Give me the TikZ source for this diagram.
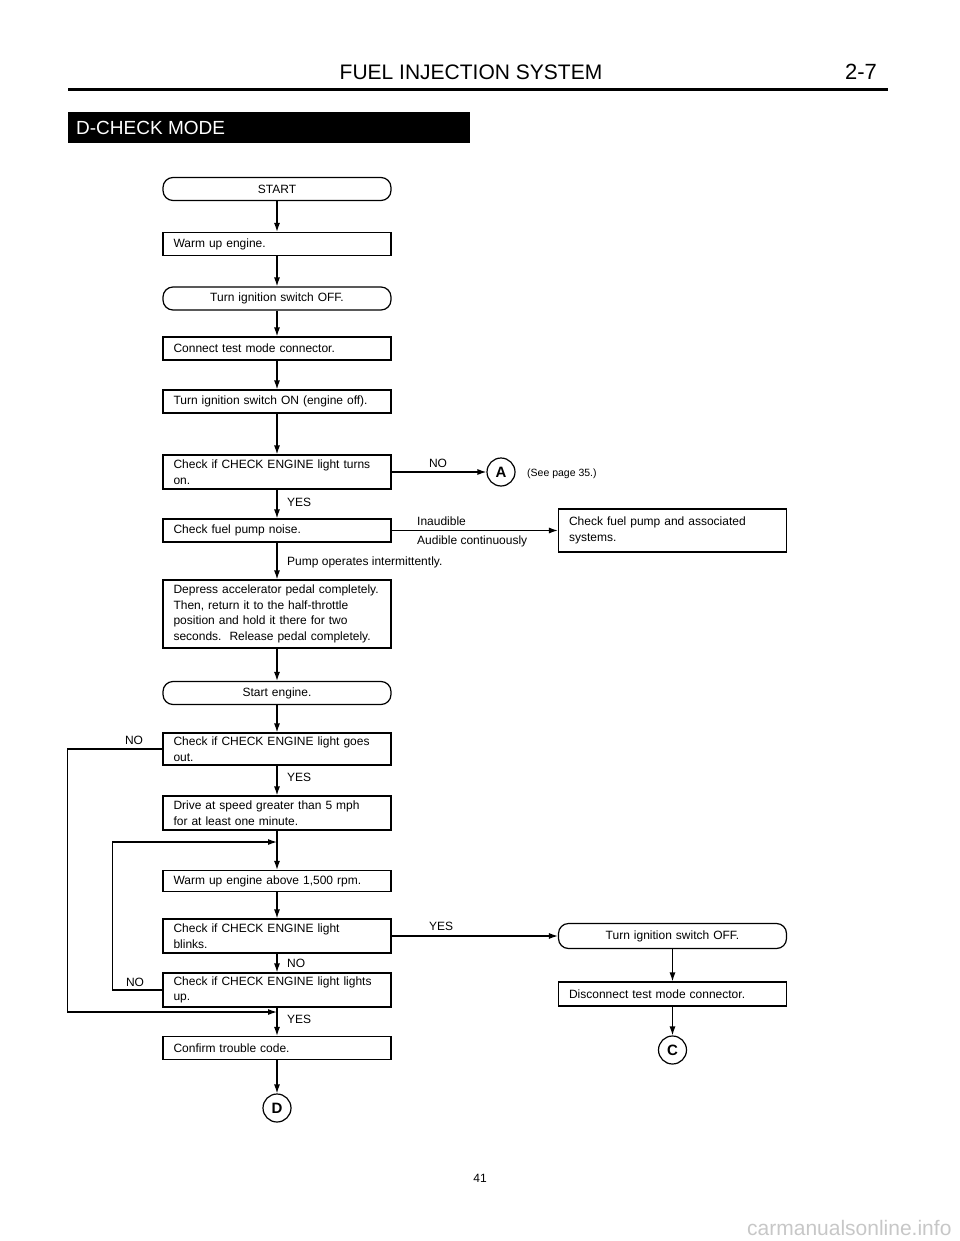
\documentclass[tikz,border=0pt]{standalone}
\usepackage{fontspec}
\setmainfont{Liberation Sans}
\usetikzlibrary{arrows.meta}

\begin{document}
\begin{tikzpicture}[x=1pt,y=-1pt,
  box/.style={draw, line width=1.2pt, text width=207pt, inner xsep=10.5pt, inner ysep=2pt, minimum height=23pt, align=left, font=\fontsize{12}{15.5}\selectfont},
  pill/.style={box, rounded corners=10pt, align=center},
  conn/.style={draw, circle, line width=1.2pt, minimum size=28pt, inner sep=0pt, font=\fontsize{15}{15}\selectfont\bfseries},
  tag/.style={inner sep=0pt, font=\fontsize{12}{14}\selectfont},
  arr/.style={line width=1.2pt, -{Latex[length=9pt,width=6pt]}}]
\useasboundingbox (0,0) rectangle (960,1241);
% page head
\node[font=\fontsize{21}{25}\selectfont] (title) at (471,72) {FUEL INJECTION SYSTEM};
\node[font=\fontsize{22}{25}\selectfont] (page) at (861,72) {2-7};
\path[draw,line width=3pt] (68,90) -- (888,90);
\path[fill=black] (68,112) rectangle (470,143);
\node[anchor=west, text=white, inner sep=0pt, font=\fontsize{19}{22}\selectfont] (mode) at (76,128) {D-CHECK MODE};
% main column
\node[pill] (1) at (277,189) {START};
\node[box] (2) at (277,244) {Warm up engine.};
\node[pill] (3) at (277,298.5) {Turn ignition switch OFF.};
\node[box] (4) at (277,348.5) {Connect test mode connector.};
\node[box] (5) at (277,401.5) {Turn ignition switch ON (engine off).};
\node[box, minimum height=34pt] (6) at (277,472) {Check if CHECK ENGINE light turns\\on.};
\node[box] (7) at (277,530.5) {Check fuel pump noise.};
\node[box, minimum height=68pt] (8) at (277,614) {Depress accelerator pedal completely.\\Then, return it to the half-throttle\\position and hold it there for two\\seconds.\ \ Release pedal completely.};
\node[pill] (9) at (277,693) {Start engine.};
\node[box, minimum height=32pt] (10) at (277,749) {Check if CHECK ENGINE light goes\\out.};
\node[box, minimum height=34pt] (11) at (277,813) {Drive at speed greater than 5 mph\\for at least one minute.};
\node[box, minimum height=21pt] (12) at (277,881) {Warm up engine above 1,500 rpm.};
\node[box, minimum height=34pt] (13) at (277,936) {Check if CHECK ENGINE light\\blinks.};
\node[box, minimum height=34pt] (14) at (277,990) {Check if CHECK ENGINE light lights\\up.};
\node[box] (15) at (277,1048) {Confirm trouble code.};
\node[conn] (D) at (277,1108) {D};
% right side
\node[conn] (A) at (501,472) {A};
\node[tag, anchor=west, font=\fontsize{10.5}{12}\selectfont] (seepage) at (527,474) {(See page 35.)};
\node[box, minimum height=43pt] (16) at (672.5,530.5) {Check fuel pump and associated\\systems.};
\node[pill, minimum height=25pt] (17) at (672.5,936) {Turn ignition switch OFF.};
\node[box, minimum height=24pt] (18) at (672.5,994) {Disconnect test mode connector.};
\node[conn] (C) at (672.5,1050) {C};
% labels
\node[tag] (no1) at (438,463) {NO};
\node[tag, anchor=west] (yes1) at (287,502) {YES};
\node[tag, anchor=west] (inaud) at (417,521) {Inaudible};
\node[tag, anchor=west] (aud) at (417,541) {Audible continuously};
\node[tag, anchor=west] (pump) at (287,562) {Pump operates intermittently.};
\node[tag] (no2) at (134,740) {NO};
\node[tag, anchor=west] (yes2) at (287,777) {YES};
\node[tag] (yes3) at (441,926) {YES};
\node[tag, anchor=west] (no3) at (287,963) {NO};
\node[tag] (no4) at (135,982) {NO};
\node[tag, anchor=west] (yes4) at (287,1019) {YES};
\node[font=\fontsize{12}{14}\selectfont] (num) at (480,1178) {41};
\node[anchor=east, text=black!22, font=\fontsize{21}{24}\selectfont] (site) at (955,1228) {carmanualsonline.info};
% connectors
\path[draw,arr] (1) -- (2);
\path[draw,arr] (2) -- (3);
\path[draw,arr] (3) -- (4);
\path[draw,arr] (4) -- (5);
\path[draw,arr] (5) -- (6);
\path[draw,arr] (6) -- (7);
\path[draw,arr] (7) -- (8);
\path[draw,arr] (8) -- (9);
\path[draw,arr] (9) -- (10);
\path[draw,arr] (10) -- (11);
\path[draw,arr] (11) -- (12);
\path[draw,arr] (12) -- (13);
\path[draw,arr] (13) -- (14);
\path[draw,arr] (14) -- (15);
\path[draw,arr] (15) -- (D);
\path[draw,arr] (6) -- (A);
\path[draw,arr] (7) -- (16);
\path[draw,arr] (13) -- (17);
\path[draw,arr] (17) -- (18);
\path[draw,arr] (18) -- (C);
\coordinate (j1) at (277,842);
\coordinate (j2) at (277,1012);
\path[draw,arr] (14.west) -- ++(-50,0) |- (j1);
\path[draw,arr] (10.west) -- ++(-95,0) |- (j2);
\end{tikzpicture}
\end{document}
